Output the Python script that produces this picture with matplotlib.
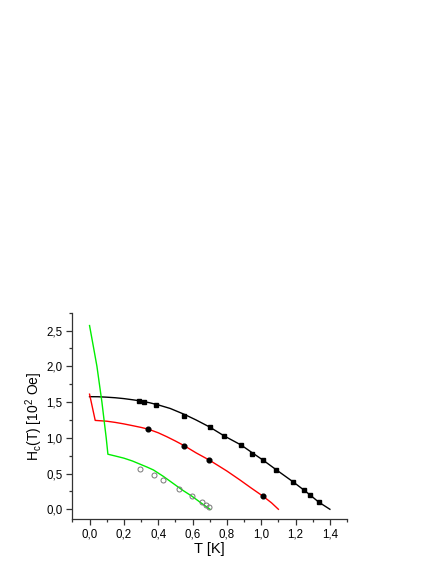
import matplotlib
matplotlib.use("Agg")
import matplotlib.pyplot as plt
from matplotlib.ticker import MultipleLocator, FuncFormatter

plt.rcParams['font.family'] = ['Liberation Sans', 'DejaVu Sans']
plt.rcParams['mathtext.default'] = 'regular'

# Black series (filled squares) and its fit line
black_T = [0.29, 0.32, 0.39, 0.55, 0.70, 0.785, 0.882, 0.948, 1.012, 1.089, 1.186, 1.248, 1.283, 1.335]
black_H = [1.52, 1.50, 1.46, 1.31, 1.15, 1.02, 0.90, 0.78, 0.685, 0.55, 0.383, 0.264, 0.203, 0.097]
black_line_T = [0.0, 0.05, 0.1, 0.15, 0.2, 0.25, 0.29, 0.35, 0.4, 0.47, 0.55, 0.62, 0.70, 0.785, 0.882, 0.948, 1.012, 1.089, 1.186, 1.248, 1.283, 1.335, 1.40]
black_line_H = [1.575, 1.574, 1.568, 1.56, 1.548, 1.532, 1.518, 1.49, 1.46, 1.41, 1.33, 1.25, 1.15, 1.025, 0.90, 0.79, 0.685, 0.55, 0.383, 0.27, 0.203, 0.10, 0.0]

# Red series (filled circles) and its fit line
red_T = [0.343, 0.551, 0.696, 1.012]
red_H = [1.12, 0.884, 0.685, 0.19]
red_line_T = [0.0, 0.033, 0.1, 0.15, 0.198, 0.25, 0.30, 0.343, 0.40, 0.45, 0.50, 0.551, 0.62, 0.696, 0.75, 0.80, 0.876, 0.94, 1.012, 1.06, 1.10]
red_line_H = [1.61, 1.243, 1.232, 1.215, 1.195, 1.17, 1.145, 1.12, 1.07, 1.015, 0.955, 0.89, 0.79, 0.69, 0.61, 0.535, 0.41, 0.30, 0.18, 0.09, 0.0]

# Green series (open circles) and its fit line
green_T = [0.293, 0.377, 0.43, 0.521, 0.597, 0.653, 0.676, 0.695]
green_H = [0.56, 0.486, 0.404, 0.285, 0.188, 0.108, 0.055, 0.034]
green_line_T = [0.0, 0.022, 0.043, 0.072, 0.097, 0.107, 0.15, 0.2, 0.25, 0.295, 0.335, 0.372, 0.43, 0.488, 0.54, 0.595, 0.653, 0.702]
green_line_H = [2.57, 2.28, 2.0, 1.5, 1.0, 0.77, 0.745, 0.715, 0.675, 0.63, 0.59, 0.55, 0.46, 0.36, 0.27, 0.185, 0.083, 0.0]

fig = plt.figure(figsize=(4.36, 5.64), dpi=100)
ax = fig.add_axes([0.166, 0.0793, 0.630, 0.3663])

ax.plot(black_line_T, black_line_H, color='black', lw=1.0, zorder=2)
ax.plot(red_line_T, red_line_H, color='#ff0000', lw=1.0, zorder=2)
ax.plot(green_line_T, green_line_H, color='#00ee00', lw=1.0, zorder=2)

ax.plot(black_T, black_H, 's', color='black', ms=3.2, zorder=3)
ax.plot(red_T, red_H, 'o', color='black', ms=3.4, zorder=3)
ax.plot(green_T, green_H, 'o', mfc='none', mec='#777777', mew=0.7, ms=3.6, zorder=3)

ax.set_xlim(-0.1, 1.5)
ax.set_ylim(-0.14, 2.75)

for s in ['top', 'right']:
    ax.spines[s].set_visible(False)
for s in ['left', 'bottom']:
    ax.spines[s].set_color('#333333')
    ax.spines[s].set_linewidth(0.9)

ax.xaxis.set_major_locator(MultipleLocator(0.2))
ax.xaxis.set_minor_locator(MultipleLocator(0.1))
ax.yaxis.set_major_locator(MultipleLocator(0.5))
ax.yaxis.set_minor_locator(MultipleLocator(0.25))
fmt = FuncFormatter(lambda v, p: f"{v:.1f}".replace('.', ',').replace('-0,0', '0,0'))
ax.xaxis.set_major_formatter(fmt)
ax.yaxis.set_major_formatter(fmt)

ax.tick_params(which='major', direction='out', length=4, width=0.9, color='#333333', labelsize=8.3, pad=3)
ax.tick_params(which='minor', direction='out', length=2.5, width=0.9, color='#333333')

ax.set_xlabel('T [K]', fontsize=10.5, labelpad=1)
ax.set_ylabel('H$_c$(T) [10$^2$ Oe]', fontsize=10, labelpad=1)

fig.savefig('out.png', dpi=100)
